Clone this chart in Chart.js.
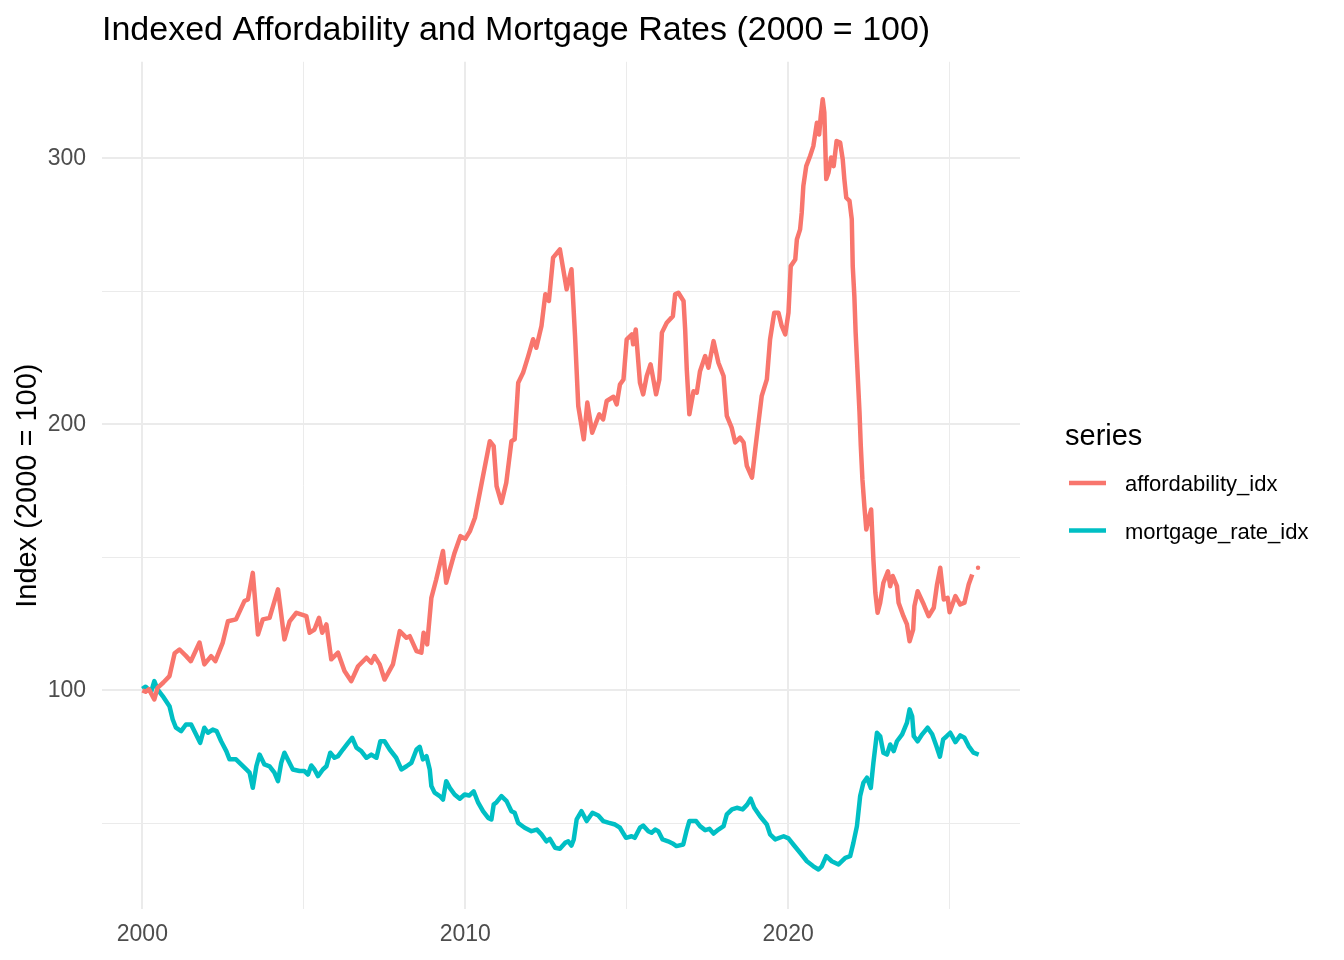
<!DOCTYPE html>
<html>
<head>
<meta charset="utf-8">
<script src="https://cdn.jsdelivr.net/npm/chart.js@4/dist/chart.umd.min.js"></script>
<style>
  body { margin: 0; background: #fff; }
  canvas { display: block; }
</style>
</head>
<body>
<canvas id="chart" width="1344" height="960"></canvas>
<script>
// affordability index (year as decimal)
const affYears = [
  2000.00, 2000.10, 2000.20, 2000.37, 2000.47, 2000.65, 2000.84, 2001.00, 2001.15, 2001.35,
  2001.50, 2001.77, 2001.92, 2002.13, 2002.26, 2002.49, 2002.65, 2002.90, 2003.16, 2003.27,
  2003.42, 2003.58, 2003.73, 2003.94, 2004.20, 2004.40, 2004.56, 2004.77, 2005.08, 2005.18,
  2005.33, 2005.47, 2005.57, 2005.70, 2005.85, 2006.06, 2006.26, 2006.47, 2006.68, 2006.94,
  2007.09, 2007.19, 2007.35, 2007.50, 2007.76, 2007.97, 2008.18, 2008.28, 2008.49, 2008.64,
  2008.71, 2008.82, 2008.95, 2009.10, 2009.31, 2009.41, 2009.67, 2009.85, 2010.00, 2010.15,
  2010.30, 2010.55, 2010.76, 2010.88, 2010.97, 2011.12, 2011.27, 2011.43, 2011.53, 2011.64,
  2011.79, 2011.95, 2012.10, 2012.20, 2012.36, 2012.48, 2012.59, 2012.72, 2012.93, 2013.14,
  2013.29, 2013.40, 2013.50, 2013.67, 2013.78, 2013.93, 2014.15, 2014.27, 2014.38, 2014.59,
  2014.69, 2014.79, 2014.90, 2015.00, 2015.16, 2015.20, 2015.28, 2015.41, 2015.51, 2015.62,
  2015.74, 2015.91, 2016.01, 2016.09, 2016.24, 2016.43, 2016.50, 2016.60, 2016.76, 2016.81,
  2016.86, 2016.94, 2017.07, 2017.17, 2017.27, 2017.43, 2017.53, 2017.69, 2017.84, 2018.00,
  2018.10, 2018.25, 2018.36, 2018.51, 2018.62, 2018.72, 2018.88, 2018.98, 2019.08, 2019.18,
  2019.34, 2019.44, 2019.57, 2019.70, 2019.80, 2019.91, 2020.01, 2020.08, 2020.22, 2020.27,
  2020.37, 2020.42, 2020.47, 2020.56, 2020.68, 2020.78, 2020.89, 2020.96, 2021.01, 2021.07,
  2021.12, 2021.18, 2021.25, 2021.33, 2021.41, 2021.50, 2021.61, 2021.69, 2021.74, 2021.80,
  2021.90, 2021.97, 2022.00, 2022.05, 2022.09, 2022.15, 2022.21, 2022.25, 2022.30, 2022.36,
  2022.42, 2022.49, 2022.57, 2022.64, 2022.70, 2022.77, 2022.85, 2022.95, 2023.09, 2023.16,
  2023.24, 2023.37, 2023.42, 2023.57, 2023.68, 2023.76, 2023.87, 2023.91, 2024.01, 2024.20,
  2024.35, 2024.51, 2024.61, 2024.71, 2024.82, 2024.94, 2025.00, 2025.18, 2025.33, 2025.46,
  2025.59, 2025.70, 2025.79, 2025.88
];
const affValues = [
  100, 99.5, 100.5, 96.6, 101, 103, 105.4, 114, 115.4, 113,
  111, 118, 109.8, 112.9, 111, 118, 126, 126.7, 133.6, 134.2,
  144.2, 121, 126.7, 127.3, 138, 119.2, 126, 129.2, 127.9, 121.7,
  122.9, 127.3, 121.7, 124.8, 111.7, 114.2, 107.3, 103.5, 109.1, 112.3,
  110.4, 112.9, 109.8, 104.1, 109.8, 122.3, 119.8, 120.4, 114.8, 114.2,
  121.7, 117.3, 134.8, 141.7, 152.4, 140.5, 151.8, 158, 157, 160,
  164.9, 180.6, 193.7, 191.8, 176.8, 170.5, 178.1, 193.7, 194.4, 215.7,
  219.4, 225.7, 232, 228.8, 237, 248.9, 246.4, 262.7, 265.8, 250.8,
  258.3, 233.2, 206.9, 194.4, 208.2, 196.9, 203.8, 201.9, 208.8, 210.4,
  207.5, 215, 216.9, 232, 233.8, 230.1, 235.7, 215.7, 211.3, 218.2,
  222.6, 211.3, 216.9, 234.5, 238.2, 240.7, 248.9, 249.5, 246.4, 235.7,
  220.7, 203.8, 212.5, 211.9, 220, 225.7, 221.3, 231.3, 223.2, 218.2,
  203.2, 198.8, 193.2, 195, 193.2, 184.4, 180, 190.6, 200.6, 210.6,
  216.9, 232, 242, 242, 237, 233.8, 242, 259.5, 262, 269.5,
  273.3, 279.6, 289.6, 297.1, 300.9, 304.6, 313.4, 309, 315.9, 322.2,
  317.2, 292.2, 294.7, 300.3, 297.1, 306.5, 305.9, 299.6, 292.2, 285.2,
  284, 277.1, 259.5, 248.2, 234.5, 219.4, 204.4, 191.8, 179.3, 169.3,
  160.5, 164.3, 168, 149.2, 136.7, 129.2, 133, 140.5, 144.8, 139.2,
  143, 139.2, 133, 127.9, 124.8, 118.5, 122.9, 131.7, 137.3, 132.3,
  127.9, 131.1, 139.8, 146.1, 134.2, 134.8, 129.4, 135.5, 132.3, 133,
  139.8, 143.6, null, 146.1
];

// mortgage rate index
const rateYears = [
  2000.00, 2000.10, 2000.27, 2000.37, 2000.47, 2000.63, 2000.84, 2000.94, 2001.04, 2001.20,
  2001.35, 2001.51, 2001.66, 2001.79, 2001.92, 2002.03, 2002.18, 2002.30, 2002.44, 2002.60,
  2002.70, 2002.90, 2003.06, 2003.22, 2003.32, 2003.42, 2003.53, 2003.63, 2003.78, 2003.94,
  2004.09, 2004.20, 2004.30, 2004.40, 2004.50, 2004.66, 2004.87, 2005.02, 2005.13, 2005.23,
  2005.33, 2005.44, 2005.59, 2005.70, 2005.82, 2005.95, 2006.06, 2006.21, 2006.37, 2006.50,
  2006.63, 2006.78, 2006.94, 2007.09, 2007.25, 2007.37, 2007.50, 2007.66, 2007.86, 2008.02,
  2008.18, 2008.33, 2008.49, 2008.59, 2008.69, 2008.80, 2008.90, 2008.95, 2009.05, 2009.21,
  2009.31, 2009.41, 2009.52, 2009.67, 2009.83, 2009.98, 2010.12, 2010.26, 2010.40, 2010.55,
  2010.71, 2010.81, 2010.88, 2010.97, 2011.12, 2011.28, 2011.43, 2011.53, 2011.64, 2011.84,
  2012.05, 2012.22, 2012.36, 2012.51, 2012.62, 2012.78, 2012.93, 2013.09, 2013.19, 2013.29,
  2013.36, 2013.45, 2013.60, 2013.76, 2013.94, 2014.12, 2014.27, 2014.43, 2014.64, 2014.79,
  2014.98, 2015.15, 2015.25, 2015.41, 2015.51, 2015.67, 2015.77, 2015.88, 2015.98, 2016.11,
  2016.28, 2016.42, 2016.54, 2016.75, 2016.85, 2016.94, 2017.15, 2017.27, 2017.43, 2017.56,
  2017.69, 2017.84, 2018.00, 2018.10, 2018.26, 2018.41, 2018.59, 2018.73, 2018.84, 2018.95,
  2019.13, 2019.34, 2019.44, 2019.60, 2019.86, 2020.01, 2020.16, 2020.37, 2020.58, 2020.78,
  2020.94, 2021.04, 2021.18, 2021.35, 2021.56, 2021.77, 2021.92, 2022.02, 2022.13, 2022.23,
  2022.33, 2022.44, 2022.56, 2022.64, 2022.75, 2022.85, 2022.95, 2023.06, 2023.16, 2023.27,
  2023.37, 2023.53, 2023.68, 2023.76, 2023.84, 2023.89, 2024.01, 2024.15, 2024.32, 2024.46,
  2024.59, 2024.70, 2024.80, 2024.91, 2025.02, 2025.18, 2025.33, 2025.46, 2025.59, 2025.74,
  2025.90
];
const rateValues = [
  100.6, 101.4, 99.4, 103.5, 100.4, 97.9, 94.1, 89.1, 86, 84.7,
  87.2, 87.2, 83.5, 80.3, 86, 84.1, 85.3, 84.7, 80.9, 77.2,
  74.1, 74.1, 72.2, 70.3, 69.1, 63.4, 71.5, 75.9, 72.2, 71.5,
  69.1, 65.9, 72.8, 76.6, 74.1, 70.3, 69.7, 69.7, 68.4, 71.8,
  70.3, 67.8, 70.3, 71.5, 76.6, 74.7, 75.3, 77.8, 80.3, 82.2,
  78.5, 77.2, 74.7, 75.9, 74.7, 80.9, 80.9, 77.8, 74.7, 70.3,
  71.5, 72.8, 77.8, 78.8, 74.1, 75.3, 70.3, 64.1, 61.6, 60.3,
  59, 65.9, 63.4, 60.9, 59.3, 60.9, 60.5, 62.1, 57.8, 54.6,
  52.1, 51.5, 57.1, 58, 60.3, 58.4, 54.6, 54, 50.2, 48.4,
  47.1, 47.7, 45.9, 43.3, 44.2, 40.9, 40.5, 42.7, 43.3, 41.7,
  44, 51.5, 54.6, 50.9, 54, 53, 50.9, 50.3, 49.6, 48.4,
  44.6, 45.2, 44.6, 48.4, 49.2, 47.1, 46.5, 47.7, 47.1, 44,
  43.3, 42.5, 41.5, 42.1, 47.1, 50.9, 50.9, 49, 47.5, 48,
  46.2, 47.7, 49, 53.4, 55.3, 55.9, 55.3, 57.1, 59.3, 55.9,
  52.7, 49.6, 45.9, 44, 45.2, 44.4, 42.1, 39, 35.8, 33.9,
  32.7, 33.9, 37.7, 35.8, 34.6, 37.1, 37.7, 42.7, 49, 60.3,
  65.3, 67.2, 63.4, 72.8, 84.1, 82.8, 76.6, 75.9, 79.7, 77.2,
  80.9, 83.5, 87.9, 92.9, 90.3, 82.8, 80.9, 83.5, 86, 83.5,
  79.1, 75.1, 81.6, 82.8, 84.1, 80.6, 83.1, 82.2, 79.1, 76.6,
  75.9
];

const seriesNames = ['affordability_idx', 'mortgage_rate_idx'];
const seriesColors = ['#F8766D', '#00BFC4'];
const xTicks = [2000, 2005, 2010, 2015, 2020, 2025];
const yTicks = [50, 100, 150, 200, 250, 300];

const FONT = '"Liberation Sans", Arial, sans-serif';
const GRID = '#EBEBEB';

// ggplot-like legend drawn to the right of the panel
const seriesKey = {
  id: 'seriesKey',
  afterDraw(chart) {
    const ctx = chart.ctx;
    ctx.save();
    ctx.fillStyle = '#000';
    ctx.textAlign = 'left';
    ctx.textBaseline = 'alphabetic';
    ctx.font = '29px ' + FONT;
    ctx.fillText('series', 1065, 445);
    ctx.font = '22px ' + FONT;
    chart.data.datasets.forEach((ds, i) => {
      const y = 483 + i * 47.5;
      ctx.strokeStyle = ds.borderColor;
      ctx.lineWidth = 4.5;
      ctx.beginPath();
      ctx.moveTo(1069, y);
      ctx.lineTo(1106, y);
      ctx.stroke();
      ctx.fillStyle = '#000';
      ctx.fillText(ds.label, 1125, y + 8);
    });
    ctx.restore();
  }
};

const toPoints = (xs, ys) => xs.map((x, i) => ({ x: x, y: ys[i] }));

new Chart(document.getElementById('chart'), {
  type: 'line',
  data: {
    datasets: [
      {
        label: seriesNames[0],
        data: toPoints(affYears, affValues),
        borderColor: seriesColors[0],
        backgroundColor: seriesColors[0],
        borderWidth: 4.5,
        borderJoinStyle: 'round',
        tension: 0,
        spanGaps: false,
        // only the lone last point (after the gap) is visible
        pointRadius: c => (c.dataIndex === affValues.length - 1 ? 2.2 : 0),
        pointBorderWidth: 0,
        pointHoverRadius: 0
      },
      {
        label: seriesNames[1],
        data: toPoints(rateYears, rateValues),
        borderColor: seriesColors[1],
        backgroundColor: seriesColors[1],
        borderWidth: 4.5,
        borderJoinStyle: 'round',
        tension: 0,
        pointRadius: 0,
        pointHoverRadius: 0
      }
    ]
  },
  options: {
    responsive: false,
    animation: false,
    devicePixelRatio: 1,
    layout: { padding: { left: 0, right: 324, top: 0, bottom: 1 } },
    plugins: {
      legend: { display: false },
      tooltip: { enabled: false },
      title: {
        display: true,
        text: 'Indexed Affordability and Mortgage Rates (2000 = 100)',
        align: 'start',
        fullSize: false,
        color: '#000',
        font: { family: FONT, size: 34, weight: 'normal' },
        padding: { top: 10, bottom: 11 }
      }
    },
    scales: {
      x: {
        type: 'linear',
        min: 1998.75,
        max: 2027.18,
        afterBuildTicks: s => { s.ticks = xTicks.map(v => ({ value: v })); },
        border: { display: false },
        grid: {
          drawTicks: false,
          color: GRID,
          lineWidth: c => (c.tick && c.tick.value % 10 === 0 ? 2 : 1)
        },
        ticks: {
          padding: 11,
          color: '#4D4D4D',
          font: { family: FONT, size: 23 },
          maxRotation: 0,
          autoSkip: false,
          callback: v => (v % 10 === 0 ? String(v) : '')
        }
      },
      y: {
        min: 17.7,
        max: 336.3,
        afterBuildTicks: s => { s.ticks = yTicks.map(v => ({ value: v })); },
        afterFit: s => { s.width = 102; },
        border: { display: false },
        grid: {
          drawTicks: false,
          color: GRID,
          lineWidth: c => (c.tick && c.tick.value % 100 === 0 ? 2 : 1)
        },
        ticks: {
          padding: 16,
          color: '#4D4D4D',
          font: { family: FONT, size: 23 },
          autoSkip: false,
          callback: v => (v % 100 === 0 ? String(v) : '')
        },
        title: {
          display: true,
          text: 'Index (2000 = 100)',
          color: '#000',
          font: { family: FONT, size: 29 },
          padding: { top: 11, bottom: 2 }
        }
      }
    }
  },
  plugins: [seriesKey]
});
</script>
</body>
</html>
